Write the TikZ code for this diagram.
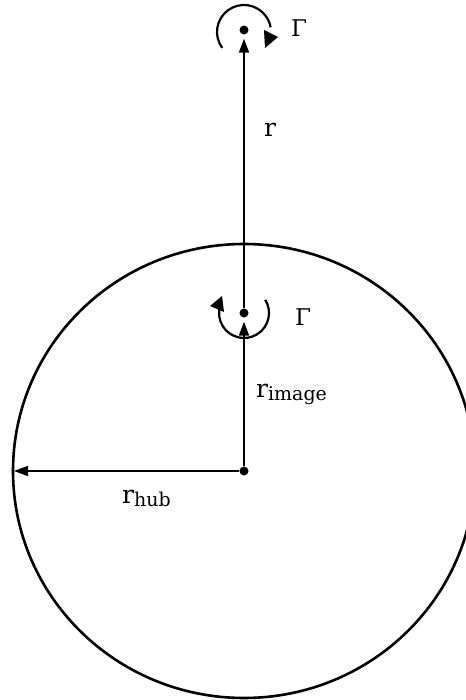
\documentclass[tikz,border=0pt]{standalone}
\usepackage{fontspec}
\setmainfont{DejaVu Serif}
\usetikzlibrary{arrows.meta}
\begin{document}
\begin{tikzpicture}[x=1pt,y=-1pt,
  dot/.style={circle,fill,inner sep=0pt,minimum size=9pt},
  radial/.style={line width=1.8pt,-{Triangle[length=14pt,width=10pt]}},
  swirl/.style={line width=2.2pt},
  lbl/.style={inner sep=0pt,anchor=base west},
  big/.style={font=\fontsize{25}{25}\selectfont},
  gam/.style={font=\fontsize{23}{23}\selectfont}]
\useasboundingbox (0,0) rectangle (465,700);
% hub circle
\draw[line width=2.6pt] (244,471) ellipse [x radius=231, y radius=227];
% dots
\node[dot] (c) at (244,471) {};
\node[dot] (m) at (244,313) {};
\node[dot] (t) at (244,30) {};
\coordinate (hubL) at (13,471);
% radial connectors
\draw[radial,shorten >=4pt] (c) -- (m);
\draw[radial,shorten >=4pt] (m) -- (t);
\draw[radial,shorten >=1pt] (c) -- (hubL);
% top vortex
\draw[swirl] ([shift={(144:27)}]244,32) arc[start angle=144,end angle=350,radius=27];
\fill (264,30) -- (278,37) -- (265,48) -- cycle;
% image vortex
\draw[swirl] ([shift={(-32:25)}]244,313) arc[start angle=-32,end angle=200,radius=25];
\fill (210,306) -- (222,296) -- (224,312) -- cycle;
% labels
\node[lbl,gam] (g1) at (291,37) {Γ};
\node[lbl,gam] (g2) at (295,325) {Γ};
\node[lbl,big] (lr) at (264,137) {r};
\node[lbl,big] (lri) at (256,397) {r\raisebox{-3pt}{\fontsize{19}{19}\selectfont image}};
\node[lbl,big] (lrh) at (122,503) {r\raisebox{-3pt}{\fontsize{19}{19}\selectfont hub}};
\end{tikzpicture}
\end{document}
